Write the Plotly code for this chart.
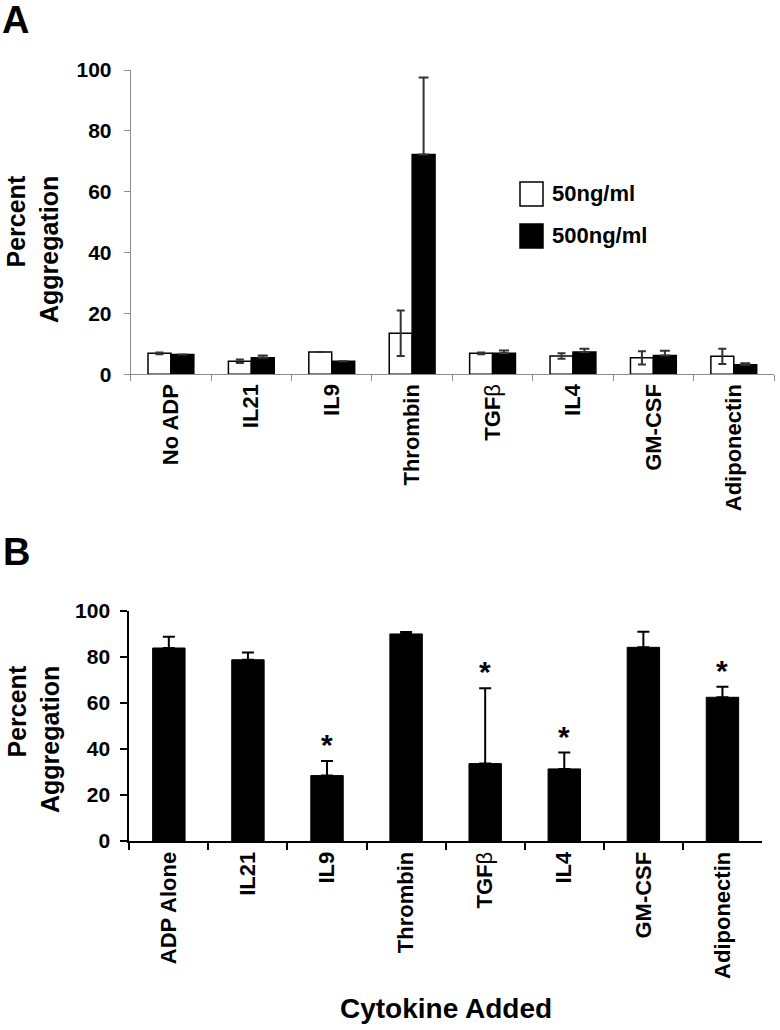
import plotly.graph_objects as go

# ---------------- data ----------------
cats_a = ["No ADP", "IL21", "IL9", "Thrombin",
          "TGF<span style='font-weight:normal'>β</span>", "IL4", "GM-CSF", "Adiponectin"]
low_vals = [6.9, 4.3, 7.3, 13.5, 6.9, 6.0, 5.4, 5.9]        # 50ng/ml
low_err = [0.3, 0.6, None, 7.5, 0.3, 0.9, 2.2, 2.5]
high_vals = [6.5, 5.4, 4.3, 72.2, 6.9, 7.3, 6.2, 3.1]       # 500ng/ml
high_err = [None, 0.8, None, 25.3, 0.9, 1.1, 1.5, 0.5]
series_names = ["50ng/ml", "500ng/ml"]

cats_b = ["ADP Alone", "IL21", "IL9", "Thrombin",
          "TGF<span style='font-weight:normal'>β</span>", "IL4", "GM-CSF", "Adiponectin"]
b_vals = [83.8, 78.7, 28.4, 89.9, 33.6, 31.3, 84.1, 62.4]
b_err = [4.9, 3.2, 6.3, 0.9, 32.7, 7.1, 6.8, 4.6]
b_sig = [False, False, True, False, True, True, False, True]

y_ticks = [0, 20, 40, 60, 80, 100]

# ---------------- figure ----------------
W, H = 780, 1030
FONT = "Liberation Sans, Arial, Helvetica, sans-serif"

def px(x):
    return min(1.0, max(0.0, x / W))

def py(y):
    return min(1.0, max(0.0, 1 - y / H))

fig = go.Figure()

fig.add_trace(go.Bar(
    x=cats_a, y=low_vals, name=series_names[0],
    marker=dict(color="white", line=dict(color="black", width=1.5)),
    error_y=dict(type="data", array=low_err, visible=True, color="#333333",
                 thickness=2, width=4),
    xaxis="x", yaxis="y", showlegend=False))
fig.add_trace(go.Bar(
    x=cats_a, y=high_vals, name=series_names[1],
    marker=dict(color="black", line=dict(color="black", width=1.5)),
    error_y=dict(type="data", array=high_err, arrayminus=[0] * len(high_err),
                 symmetric=False, visible=True, color="#333333",
                 thickness=2, width=5),
    xaxis="x", yaxis="y", showlegend=False))

fig.add_trace(go.Bar(
    x=cats_b, y=b_vals, name="Panel B", width=0.41,
    marker=dict(color="black", line=dict(color="black", width=1)),
    error_y=dict(type="data", array=b_err, arrayminus=[0] * len(b_err),
                 symmetric=False, visible=True, color="black", thickness=2, width=6),
    xaxis="x2", yaxis="y2", showlegend=False))

ytickfont = dict(family=FONT, size=21, color="black", weight="bold")
xtickfont = dict(family=FONT, size=22, color="black", weight="bold")

axis_common = dict(showgrid=False, zeroline=False, showline=True, ticks="outside",
                   automargin=False, fixedrange=True)

fig.update_layout(
    width=W, height=H,
    margin=dict(l=0, r=0, t=0, b=0),
    paper_bgcolor="white", plot_bgcolor="white",
    barmode="group", bargap=0.43, bargroupgap=0,
    font=dict(family=FONT, color="black"),
    xaxis=dict(domain=[px(130.7), px(774)], anchor="y", type="category",
               tickson="boundaries", ticklen=6, tickcolor="#8c8c8c",
               linecolor="#8c8c8c", linewidth=1, tickangle=-90, tickfont=xtickfont,
               **axis_common),
    yaxis=dict(domain=[py(374.3), py(70)], anchor="x", range=[0, 100],
               tickvals=y_ticks, ticklen=6, tickcolor="#8c8c8c",
               linecolor="#8c8c8c", linewidth=1, tickfont=ytickfont,
               ticklabelstandoff=8, **axis_common),
    xaxis2=dict(domain=[px(129.3), px(762)], anchor="y2", type="category",
                tickson="boundaries", ticklen=7, tickcolor="black", tickwidth=2,
                linecolor="black", linewidth=2, tickangle=-90, tickfont=xtickfont,
                **axis_common),
    yaxis2=dict(domain=[py(841), py(610.7)], anchor="x2", range=[0, 100],
                tickvals=y_ticks, ticklen=7, tickcolor="black", tickwidth=2,
                linecolor="black", linewidth=2, tickfont=ytickfont,
                ticklabelstandoff=6, **axis_common),
)

ann = []
# panel letters
ann.append(dict(text="A", x=px(0), y=py(20), xref="paper", yref="paper",
                xanchor="left", yanchor="middle", showarrow=False,
                font=dict(family=FONT, size=38, weight="bold", color="black")))
ann.append(dict(text="B", x=px(1), y=py(552), xref="paper", yref="paper",
                xanchor="left", yanchor="middle", showarrow=False,
                font=dict(family=FONT, size=38, weight="bold", color="black")))
# y titles
for yc in (249, 739):
    ann.append(dict(text="Percent<br>Aggregation", x=px(33), y=py(yc),
                    xref="paper", yref="paper", xanchor="center", yanchor="middle",
                    textangle=-90, align="right", showarrow=False,
                    font=dict(family=FONT, size=25, weight="bold", color="black")))
# x title panel B
ann.append(dict(text="Cytokine Added", x=px(446), y=py(1008), xref="paper", yref="paper",
                xanchor="center", yanchor="middle", showarrow=False,
                font=dict(family=FONT, size=28, weight="bold", color="black")))
# legend text
for name, yc in zip(series_names, (194, 236)):
    ann.append(dict(text=name, x=px(550), y=py(yc), xref="paper", yref="paper",
                    xanchor="left", yanchor="middle", showarrow=False,
                    font=dict(family=FONT, size=22, weight="bold", color="black")))
# significance stars
for c, v, e, s in zip(cats_b, b_vals, b_err, b_sig):
    if s:
        ann.append(dict(text="*", x=c, y=v + e, xref="x2", yref="y2",
                        xanchor="center", yanchor="bottom", yshift=-2, showarrow=False,
                        font=dict(family=FONT, size=30, weight="bold", color="black")))
fig.update_layout(annotations=ann)

# legend swatches
fig.add_shape(type="rect", xref="paper", yref="paper",
              x0=px(520), x1=px(543), y0=py(206), y1=py(182),
              fillcolor="white", line=dict(color="black", width=1.5))
fig.add_shape(type="rect", xref="paper", yref="paper",
              x0=px(520), x1=px(543), y0=py(248), y1=py(224),
              fillcolor="black", line=dict(color="black", width=1.5))

# remove the default 8px page margin so the figure fills the window exactly
fig.write_html("out.html",
               config={"displayModeBar": False},
               post_script="document.body.style.margin='0';document.body.style.overflow='hidden';")
